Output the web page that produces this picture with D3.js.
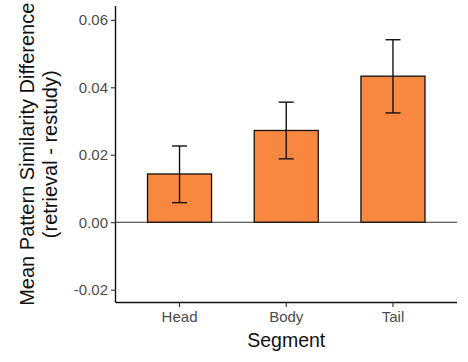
<!DOCTYPE html>
<html>
<head>
<meta charset="utf-8">
<script src="https://cdn.jsdelivr.net/npm/d3@7"></script>
<style>
  html, body { margin: 0; padding: 0; background: #fff; }
  svg { display: block; }
</style>
</head>
<body>
<script>
// Segment means with lower / upper error bounds
const segments = ["Head", "Body", "Tail"];
const meanDiff = [0.0143, 0.0272, 0.0433];
const errLow  = [0.0058, 0.0188, 0.0324];
const errHigh = [0.0226, 0.0356, 0.0541];
const yTicks = [-0.02, 0.00, 0.02, 0.04, 0.06];

const W = 468, H = 362;
const panel = { left: 115.5, right: 457, top: 6, bottom: 302.5 };

const svg = d3.select("body").append("svg")
  .attr("width", W).attr("height", H);

const x = d3.scaleBand().domain(segments).range([panel.left, panel.right])
  .paddingInner(0).paddingOuter(0.1);
const y = d3.scaleLinear().domain([-0.0238, 0.0641]).range([panel.bottom, panel.top]);

const barW = x.bandwidth() * 0.6;
const capW = x.bandwidth() * 0.14;
const cx = s => x(s) + x.bandwidth() / 2;

const data = segments.map((s, i) => ({ s, m: meanDiff[i], lo: errLow[i], hi: errHigh[i] }));

// zero reference line
svg.append("line")
  .attr("x1", panel.left).attr("x2", panel.right)
  .attr("y1", y(0)).attr("y2", y(0))
  .attr("stroke", "#333").attr("stroke-width", 1.1);

// bars
svg.selectAll("rect.bar").data(data).enter().append("rect")
  .attr("class", "bar")
  .attr("x", d => cx(d.s) - barW / 2)
  .attr("width", barW)
  .attr("y", d => y(Math.max(0, d.m)))
  .attr("height", d => Math.abs(y(d.m) - y(0)))
  .attr("fill", "#f8883f")
  .attr("stroke", "#111").attr("stroke-width", 1.3);

// error bars
const eb = svg.selectAll("g.err").data(data).enter().append("g")
  .attr("stroke", "#111").attr("stroke-width", 1.4).attr("fill", "none");
eb.append("line").attr("x1", d => cx(d.s)).attr("x2", d => cx(d.s))
  .attr("y1", d => y(d.lo)).attr("y2", d => y(d.hi));
eb.append("line").attr("x1", d => cx(d.s) - capW / 2).attr("x2", d => cx(d.s) + capW / 2)
  .attr("y1", d => y(d.hi)).attr("y2", d => y(d.hi));
eb.append("line").attr("x1", d => cx(d.s) - capW / 2).attr("x2", d => cx(d.s) + capW / 2)
  .attr("y1", d => y(d.lo)).attr("y2", d => y(d.lo));

// axes
const font = "'Liberation Sans', Arial, sans-serif";
const fmt = d => d3.format(".2f")(d).replace("\u2212", "-");
const yAxis = svg.append("g").attr("transform", `translate(${panel.left},0)`)
  .call(d3.axisLeft(y).tickValues(yTicks).tickFormat(fmt).tickSize(4.5).tickPadding(3));
const xAxis = svg.append("g").attr("transform", `translate(0,${panel.bottom})`)
  .call(d3.axisBottom(x).tickSize(4.5).tickPadding(4));

[yAxis, xAxis].forEach(g => {
  g.select(".domain").attr("stroke", "#111").attr("stroke-width", 1.4);
  g.selectAll(".tick line").attr("stroke", "#333").attr("stroke-width", 1.1);
  g.selectAll(".tick text").attr("fill", "#4d4d4d")
    .style("font-family", font).style("font-size", "15px");
});
// extend axis lines to the panel edges without outer ticks
yAxis.select(".domain").attr("d", `M0,${panel.top}V${panel.bottom}`);
xAxis.select(".domain").attr("d", `M${panel.left},0H${panel.right}`);

// axis titles
svg.append("text")
  .attr("x", (panel.left + panel.right) / 2).attr("y", 347)
  .attr("text-anchor", "middle")
  .style("font-family", font).style("font-size", "19.5px").attr("fill", "#111")
  .text("Segment");

const yt = svg.append("text")
  .attr("transform", `translate(0,${(panel.top + panel.bottom) / 2}) rotate(-90)`)
  .attr("text-anchor", "middle")
  .style("font-family", font).style("font-size", "20px").attr("fill", "#111");
yt.append("tspan").attr("x", 0).attr("y", 34).text("Mean Pattern Similarity Difference");
yt.append("tspan").attr("x", 0).attr("y", 57).text("(retrieval - restudy)");
</script>
</body>
</html>
